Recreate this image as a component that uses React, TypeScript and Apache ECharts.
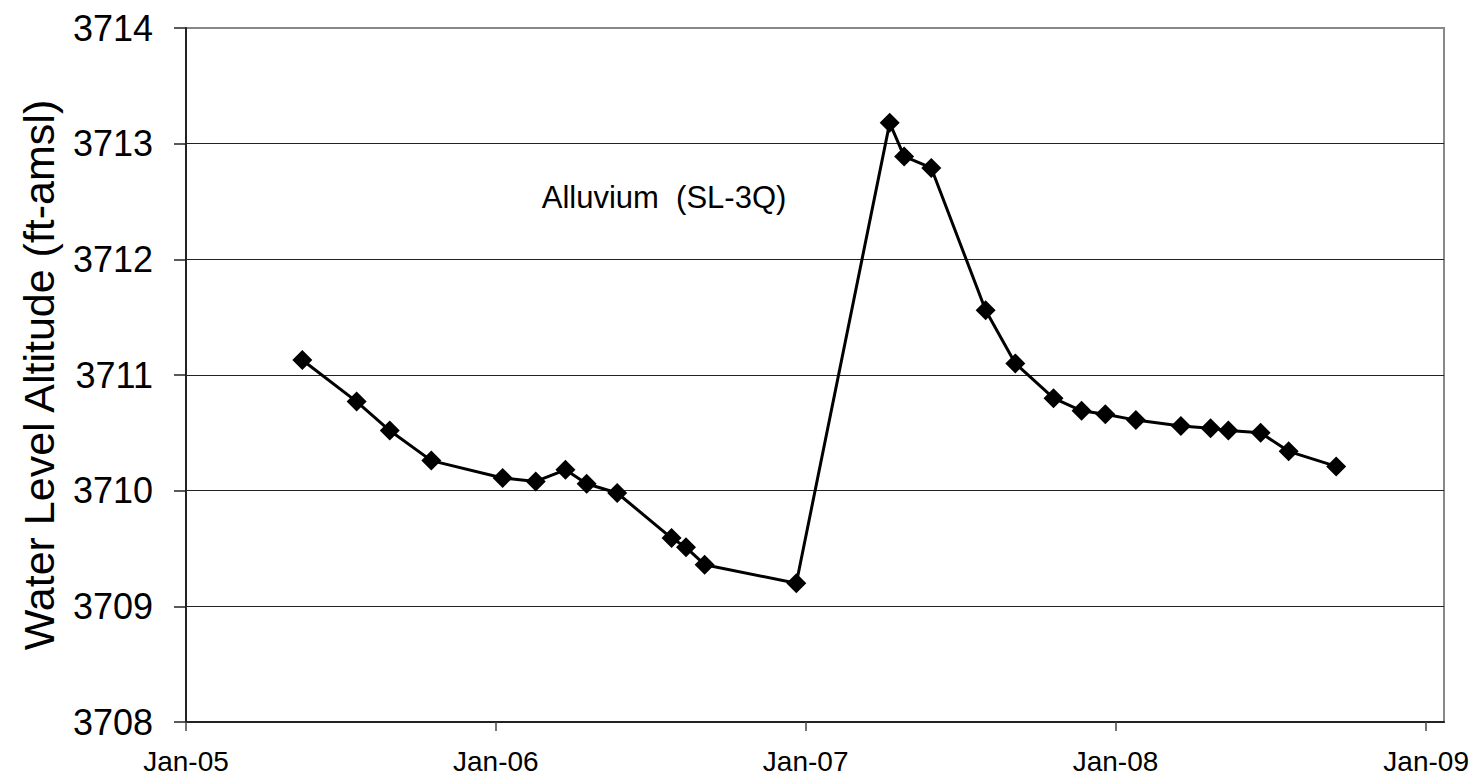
import React, { useEffect, useRef } from "react";
import * as echarts from "echarts";

// Measurement dates and water level altitudes (ft-amsl)
const sampleDates: string[] = [
  "2005-05-18", "2005-07-21", "2005-08-29", "2005-10-17",
  "2006-01-09", "2006-02-17", "2006-03-24", "2006-04-18", "2006-05-24",
  "2006-07-27", "2006-08-13", "2006-09-04", "2006-12-21",
  "2007-04-10", "2007-04-27", "2007-05-29", "2007-08-01", "2007-09-05",
  "2007-10-20", "2007-11-22", "2007-12-20",
  "2008-01-25", "2008-03-18", "2008-04-22", "2008-05-13", "2008-06-20",
  "2008-07-23", "2008-09-17",
];
const waterLevels: number[] = [
  3711.13, 3710.77, 3710.52, 3710.26,
  3710.11, 3710.08, 3710.18, 3710.06, 3709.98,
  3709.59, 3709.51, 3709.36, 3709.2,
  3713.18, 3712.89, 3712.79, 3711.56, 3711.1,
  3710.8, 3710.69, 3710.66,
  3710.61, 3710.56, 3710.54, 3710.52, 3710.5,
  3710.34, 3710.21,
];
const tickYears: number[] = [2005, 2006, 2007, 2008, 2009];
const xMin = "2005-01-01";
const xMax = "2009-01-22";
const yMin = 3708;
const yMax = 3714;
const yStep = 1;
const yAxisTitle = "Water Level Altitude (ft-amsl)";
const seriesLabel = "Alluvium  (SL-3Q)";

const FONT = 'Arial, "Liberation Sans", sans-serif';

function toTime(s: string): number {
  const [y, m, d] = s.split("-").map(Number);
  return Date.UTC(y, m - 1, d);
}

export default function App() {
  const ref = useRef<HTMLDivElement>(null);
  useEffect(() => {
    if (!ref.current) return;
    const chart = echarts.init(ref.current, null, { renderer: "svg" });
    const tickValues = tickYears.map((y) => Date.UTC(y, 0, 1));
    const data = sampleDates.map((d, i) => [toTime(d), waterLevels[i]]);
    chart.setOption({
      animation: false,
      backgroundColor: "#ffffff",
      grid: {
        left: 186,
        top: 28,
        right: 31,
        bottom: 58,
        show: true,
        borderColor: "#888888",
        borderWidth: 2,
        backgroundColor: "transparent",
        containLabel: false,
        outerBoundsMode: "none",
      },
      xAxis: {
        type: "value",
        min: toTime(xMin),
        max: toTime(xMax),
        axisLine: { show: true, lineStyle: { color: "#222", width: 2 } },
        axisTick: {
          show: true,
          customValues: tickValues,
          length: 9,
          inside: false,
          lineStyle: { color: "#444", width: 1.5 },
        },
        axisLabel: {
          customValues: tickValues,
          margin: 25,
          fontSize: 28,
          fontFamily: FONT,
          color: "#000",
          formatter: (v: number) => {
            const y = new Date(v).getUTCFullYear();
            return "Jan-" + String(y).slice(2);
          },
        },
        splitLine: { show: false },
      },
      yAxis: {
        type: "value",
        min: yMin,
        max: yMax,
        interval: yStep,
        name: yAxisTitle,
        nameLocation: "middle",
        nameGap: 126,
        nameRotate: 90,
        nameTextStyle: { fontSize: 43, fontFamily: FONT, color: "#000" },
        axisLine: { show: true, lineStyle: { color: "#222", width: 2 } },
        axisTick: { show: true, length: 12, inside: false, lineStyle: { color: "#222", width: 1.5 } },
        axisLabel: {
          margin: 33,
          fontSize: 36,
          fontFamily: FONT,
          color: "#000",
          formatter: (v: number) => String(v),
        },
        splitLine: {
          show: true,
          showMinLine: false,
          showMaxLine: false,
          lineStyle: { color: "#222", width: 1 },
        },
      },
      graphic: [
        {
          type: "text",
          x: 664,
          y: 197,
          style: {
            text: seriesLabel,
            fontSize: 31,
            fontFamily: FONT,
            fill: "#000",
            align: "center",
            verticalAlign: "middle",
          },
        },
      ],
      series: [
        {
          type: "line",
          data,
          symbol: "diamond",
          symbolSize: 20,
          showAllSymbol: true,
          lineStyle: { color: "#000", width: 3 },
          itemStyle: { color: "#000" },
        },
      ],
    });
    return () => chart.dispose();
  }, []);
  return (
    <div
      ref={ref}
      style={{ position: "fixed", left: 0, top: 0, width: 1475, height: 780, background: "#fff" }}
    />
  );
}
